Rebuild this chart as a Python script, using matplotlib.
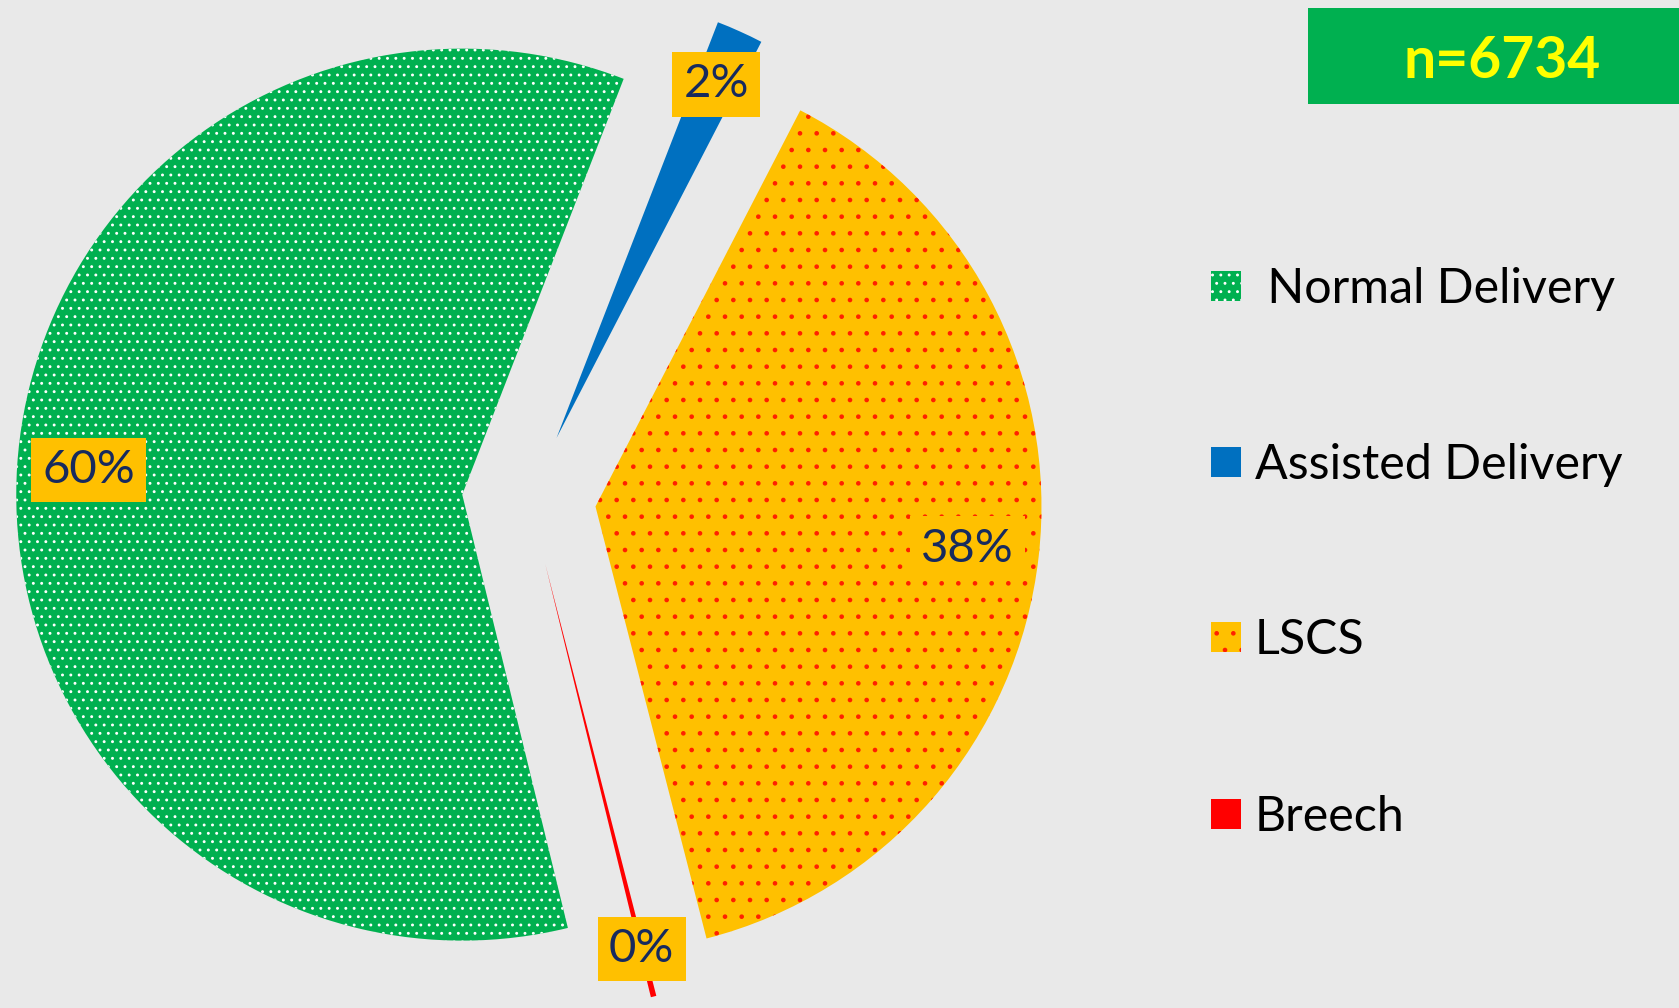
import matplotlib
matplotlib.use("Agg")
import numpy as np
import matplotlib.pyplot as plt
from matplotlib.patches import Rectangle

# data
categories = [" Normal Delivery", "Assisted Delivery", "LSCS", "Breech"]
shares = [59.7, 1.7, 38.4, 0.2]
total_n = 6734

colors = ["#00B050", "#0070C0", "#FFC000", "#FF0000"]
hatch_colors = ["#FFFFFF", "#0070C0", "#FF2000", "#FF0000"]
hatches = ["..", None, ".", None]
label_dist = [0.84, 0.87, 0.84, 0.89]   # distance of % label from wedge tip

W, H = 1679, 1008
cx, cy = 529, 509          # pie centre in pixels (from bottom-left)
rad_px = 446               # pixels per unit radius

plt.rcParams["font.family"] = ["Lato", "DejaVu Sans"]
plt.rcParams["hatch.linewidth"] = 0.9

fig = plt.figure(figsize=(W / 100, H / 100), dpi=100)
fig.patch.set_facecolor("#E9E9E9")
ax = fig.add_axes([0, 0, 1, 1])

wedges, texts, autotexts = ax.pie(
    shares, colors=colors, startangle=90 - 166.3, counterclock=False,
    explode=[0.15] * len(shares), radius=1, autopct="%.0f%%",
    pctdistance=0.85, wedgeprops=dict(linewidth=0),
    textprops=dict(fontsize=34, color="#172A5E"))

for w, hc, h in zip(wedges, hatch_colors, hatches):
    w.set_edgecolor(hc)
    w.set_linewidth(0)
    if h:
        w.set_hatch(h)

for w, t, d in zip(wedges, autotexts, label_dist):
    ang = np.deg2rad((w.theta1 + w.theta2) / 2)
    x0, y0 = w.center
    t.set_position((x0 + d * np.cos(ang), y0 + d * np.sin(ang)))
    t.set_bbox(dict(boxstyle="square,pad=0.24", facecolor="#FFC000", edgecolor="none"))

ax.set_xlim(-cx / rad_px, (W - cx) / rad_px)
ax.set_ylim(-cy / rad_px, (H - cy) / rad_px)
ax.set_aspect("equal", adjustable="box")
ax.axis("off")

# legend drawn by hand to match spacing
baselines = [303, 479, 654, 831]
for cat, col, hc, h, yb in zip(categories, colors, hatch_colors, hatches, baselines):
    sq = Rectangle((1211 / W, 1 - (yb - 2) / H), 30 / W, 30 / H,
                   transform=fig.transFigure, facecolor=col, edgecolor=hc,
                   linewidth=0, hatch=h)
    fig.add_artist(sq)
    fig.text(1255 / W, 1 - yb / H, cat, fontsize=34.8, color="black", va="baseline")

# sample size box
box = Rectangle((1308 / W, 1 - 104 / H), (W - 1308) / W, 96 / H,
                transform=fig.transFigure, facecolor="#00B050", edgecolor="none")
fig.add_artist(box)
fig.text(1502 / W, 1 - 61 / H, "n=%d" % total_n, fontsize=41, fontweight="bold",
         color="#FFFF00", ha="center", va="center")

fig.savefig("out.png", dpi=100, facecolor=fig.get_facecolor())
